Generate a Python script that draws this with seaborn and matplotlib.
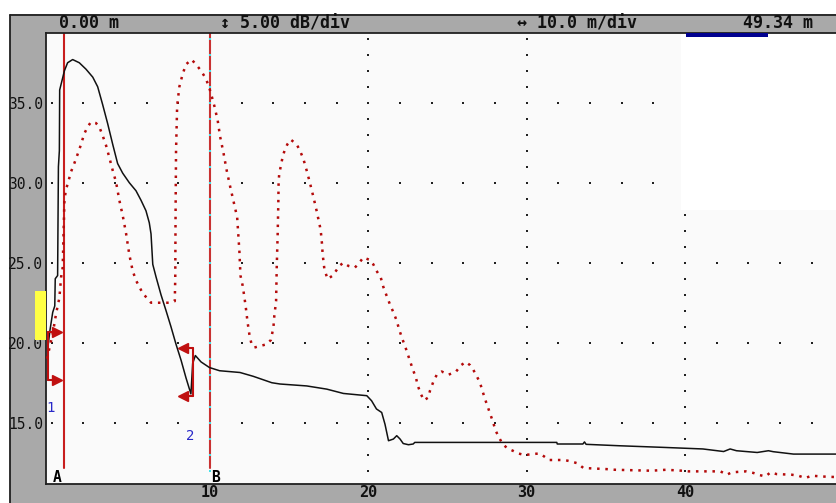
import numpy as np
import pandas as pd
import matplotlib
matplotlib.use("Agg")
import matplotlib.pyplot as plt
import seaborn as sns
from matplotlib.patches import Rectangle
from matplotlib.lines import Line2D

sns.set_theme(style="white")
plt.rcParams['font.family'] = ['DejaVu Sans Mono', 'DejaVu Sans']

# ---------------- data ----------------
trace_x = [-0.25, -0.1, 0.07, 0.2, 0.23, 0.38, 0.4, 0.43, 0.49, 0.51, 0.66, 0.81, 1.01, 1.33, 1.75,
           2.17, 2.6, 2.91, 3.22, 3.54, 3.86, 4.17, 4.49, 4.91, 5.33, 5.65, 5.96, 6.17, 6.28, 6.39,
           6.6, 6.91, 7.23, 7.54, 7.86, 8.18, 8.49, 8.8, 8.91, 9.08, 9.44, 9.97, 10.61, 11.9, 12.74,
           13.91, 14.43, 16.11, 17.38, 18.43, 19.91, 20.21, 20.52, 20.85, 21.06, 21.28, 21.59, 21.8,
           22.01, 22.21, 22.54, 22.84, 22.94, 31.91, 31.94, 33.56, 33.66, 33.76, 35.88, 38.61, 41.14,
           42.45, 42.86, 43.26, 44.57, 45.28, 45.58, 46.86, 49.73]
trace_db = [19.6, 20.8, 21.9, 22.3, 24.0, 24.2, 27.0, 31.0, 32.0, 35.8, 36.4, 37.0, 37.5, 37.7, 37.5,
            37.1, 36.6, 36.0, 34.9, 33.7, 32.4, 31.2, 30.6, 30.0, 29.5, 28.9, 28.25, 27.5, 26.8, 24.9,
            24.1, 23.0, 22.0, 21.0, 19.9, 18.9, 17.8, 16.8, 18.7, 19.2, 18.8, 18.45, 18.25, 18.14, 17.9,
            17.5, 17.42, 17.3, 17.1, 16.83, 16.69, 16.375, 15.86, 15.64, 14.9, 13.875, 13.98, 14.19,
            13.98, 13.7, 13.625, 13.67, 13.77, 13.77, 13.67, 13.67, 13.8, 13.65, 13.56, 13.46, 13.36,
            13.2, 13.36, 13.25, 13.14, 13.25, 13.19, 13.04, 13.04]

ref_x = [-0.29, 0.07, 0.28, 0.49, 0.6, 0.7, 0.76, 0.81, 0.91, 1.01,
         1.22, 1.43, 1.65, 1.86, 2.06, 2.28, 2.49, 2.8, 3.01, 3.22,
         3.44, 3.64, 3.86, 4.07, 4.28, 4.49, 4.7, 4.91, 5.12, 5.33,
         5.75, 6.28, 6.91, 7.48, 7.78, 7.81, 7.83, 7.86, 7.93, 8.07,
         8.28, 8.49, 8.84, 9.12, 9.44, 9.75, 9.97, 10.13, 10.28, 10.49,
         10.64, 10.85, 11.06, 11.27, 11.48, 11.72, 11.79, 11.86, 11.93, 12.07,
         12.18, 12.28, 12.38, 12.49, 12.63, 12.81, 13.17, 13.58, 13.85, 14.01,
         14.07, 14.18, 14.22, 14.28, 14.32, 14.34, 14.38, 14.49, 14.59, 14.71,
         14.89, 15.1, 15.48, 15.69, 15.9, 16.11, 16.32, 16.54, 16.75, 16.95,
         17.02, 17.08, 17.12, 17.18, 17.23, 17.43, 17.76, 17.97, 18.17, 18.43,
         18.75, 19.16, 19.44, 19.69, 20.11, 20.32, 20.52, 20.79, 20.95, 21.16,
         21.38, 21.59, 21.8, 21.96, 22.18, 22.39, 22.6, 22.81, 23.02, 23.11,
         23.32, 23.52, 23.8, 23.9, 24.12, 24.33, 24.64, 25.07, 25.55, 25.87,
         26.16, 26.43, 26.64, 26.86, 27.06, 27.23, 27.44, 27.65, 27.87, 28.05,
         28.26, 28.49, 28.79, 29.13, 29.48, 29.87, 30.39, 30.81, 31.1, 31.42,
         31.91, 32.39, 32.81, 33.23, 33.59, 35.07, 35.58, 37.9, 38.81, 39.82,
         40.23, 42.25, 42.65, 42.96, 43.86, 44.33, 44.64, 45.08, 45.42, 45.79,
         46.75, 47.17, 47.6, 48.01, 48.65, 49.63]
ref_db = [19.0, 20.56, 21.8, 22.8, 24.1, 24.7, 27.0, 28.9, 29.6, 29.9,
          30.67, 31.2, 31.8, 32.4, 33.06, 33.5, 33.8, 33.73, 33.5, 32.96,
          32.33, 31.6, 30.77, 30.04, 28.9, 27.96, 26.85, 25.5, 24.5, 23.9,
          23.1, 22.5, 22.5, 22.5, 22.6, 24.0, 28.0, 32.0, 34.8, 36.0,
          36.8, 37.4, 37.7, 37.4, 37.0, 36.5, 35.9, 35.35, 34.8, 33.9,
          32.9, 31.9, 30.77, 29.8, 28.9, 27.85, 26.8, 25.75, 24.2, 23.56,
          22.83, 22.1, 21.27, 20.54, 19.9, 19.7, 19.8, 19.9, 20.17, 20.96,
          21.7, 22.6, 24.7, 26.8, 28.7, 30.1, 30.56, 31.1, 31.6, 32.0,
          32.4, 32.7, 32.4, 32.0, 31.5, 30.77, 29.98, 29.1, 28.2, 27.27,
          26.8, 26.17, 25.54, 25.0, 24.6, 23.98, 24.2, 24.5, 24.8, 25.0,
          24.8, 24.7, 25.0, 25.33, 25.17, 24.9, 24.5, 24.08, 23.5, 22.94,
          22.375, 21.9, 21.375, 20.8, 20.17, 19.6, 18.98, 18.35, 17.8, 17.375,
          16.8, 16.4, 16.58, 17.0, 17.58, 18.0, 18.2, 18.0, 18.2, 18.6,
          18.8, 18.6, 18.3, 17.9, 17.5, 16.94, 16.3, 15.7, 15.08, 14.5,
          14.08, 13.67, 13.4, 13.25, 13.08, 12.98, 13.04, 13.08, 12.9, 12.67,
          12.67, 12.67, 12.58, 12.46, 12.17, 12.1, 12.06, 12.0, 12.06, 12.0,
          11.96, 11.96, 11.75, 11.9, 11.96, 11.86, 11.75, 11.64, 11.9, 11.79,
          11.75, 11.69, 11.54, 11.69, 11.64, 11.6]

yticks = [15, 20, 25, 30, 35]
ytick_labels = ['15.0', '20.0', '25.0', '30.0', '35.0']
xticks = [10, 20, 30, 40]
xtick_labels = ['10', '20', '30', '40']

cursor_x = [0.78, 10.0]
cursor_labels = ['A', 'B']
cursor_label_x = [0.38, 10.33]

marker_x = [-0.21, 8.91]
marker_top = [20.69, 19.67]
marker_bottom = [17.67, 16.67]
marker_head = [0.31, 8.33]
marker_labels = ['1', '2']
marker_label_x = [-0.05, 8.74]
marker_label_y = [15.9, 14.15]

header_texts = ['0.00 m', '\u2195 5.00 dB/div', '\u2194 10.0 m/div', '49.34 m']

# ---------------- figure layout ----------------
W, H = 837, 503
fig = plt.figure(figsize=(W / 100, H / 100), dpi=100, facecolor='white')

def fx(px):
    return px / W

def fy(py):
    return 1 - py / H

GRAY = '#a9a9a9'
fig.add_artist(Rectangle((fx(10), fy(33)), fx(827), 19 / H, transform=fig.transFigure,
                         facecolor=GRAY, edgecolor='none', zorder=0))
fig.add_artist(Rectangle((fx(10), 0), fx(36), fy(14), transform=fig.transFigure,
                         facecolor=GRAY, edgecolor='none', zorder=0))
fig.add_artist(Rectangle((fx(10), 0), fx(827), 19 / H, transform=fig.transFigure,
                         facecolor=GRAY, edgecolor='none', zorder=0))
fig.add_artist(Line2D([fx(10), 1], [fy(14.5), fy(14.5)], transform=fig.transFigure,
                      color='#202020', lw=1.3))
fig.add_artist(Line2D([fx(10.5), fx(10.5)], [0, fy(14.5)], transform=fig.transFigure,
                      color='#202020', lw=1.3))
# yellow indicator in left panel
fig.add_artist(Rectangle((fx(35), fy(340)), fx(11), 49 / H, transform=fig.transFigure,
                         facecolor='#ffff44', edgecolor='none', zorder=1))

ax = fig.add_axes([fx(46), fy(484), fx(791), (484 - 33) / H])
ax.set_facecolor('#fafafa')
ax.set_xlim(-0.354, 49.61)
ax.set_ylim(11.17, 39.36)

# navy indicator at the top right
fig.add_artist(Rectangle((fx(686), fy(36.5)), fx(82), 3.5 / H, transform=fig.transFigure,
                         facecolor='#000090', edgecolor='none', zorder=5))

# ---------------- dotted grid ----------------
row_x = np.arange(0, 50, 2)
col_db = np.arange(12, 40, 1)
gx, gy = np.meshgrid(row_x, yticks)
ax.scatter(gx.ravel(), gy.ravel(), s=2.2, marker='s', color='#202020', linewidths=0, zorder=1)
for xv in xticks[1:]:
    ax.scatter(np.full(col_db.shape, xv), col_db, s=2.2, marker='s', color='#202020',
               linewidths=0, zorder=1)
# white area in the upper right (no grid shown there)
ax.add_patch(Rectangle((39.75, 28.3), 12, 12, facecolor='white', edgecolor='none', zorder=1.5))

# ---------------- cursors ----------------
ax.plot([cursor_x[0]] * 2, [12.15, 39.36], color='#c81e1e', lw=1.5, zorder=2)
ax.plot([cursor_x[1]] * 2, [12.15, 39.36], color='#c83232', lw=1.5, zorder=2)
ax.scatter(np.full(col_db.shape, cursor_x[1]), col_db, s=3, marker='s', color='#44e0e8',
           linewidths=0, zorder=2.5)
for xl, lab in zip(cursor_label_x, cursor_labels):
    ax.text(xl, 11.6, lab, ha='center', va='center', fontsize=10.5, fontweight='bold',
            color='black', zorder=6)

# ---------------- traces ----------------
sns.lineplot(x=ref_x, y=ref_db, ax=ax, estimator=None, sort=False, color='#b40a0a',
             lw=1.8, linestyle=(0, (1, 2.3)), dash_capstyle='butt', zorder=3)
sns.lineplot(x=trace_x, y=trace_db, ax=ax, estimator=None, sort=False, color='#111111',
             lw=1.1, zorder=4)

# ---------------- loss markers ----------------
for i in range(2):
    mx = marker_x[i]
    ax.plot([mx, mx], [marker_bottom[i], marker_top[i]], color='#c01010', lw=1.5, zorder=5)
    for yv in (marker_top[i], marker_bottom[i]):
        ax.plot([mx, marker_head[i]], [yv, yv], color='#c01010', lw=1.5, zorder=5)
        ax.plot([marker_head[i]], [yv], marker='>' if i == 0 else '<', ms=7,
                color='#c01010', mec='#c01010', zorder=5)
    ax.text(marker_label_x[i], marker_label_y[i], marker_labels[i], ha='center', va='center',
            fontsize=10, color='#2828c8', zorder=6)

# ---------------- axes styling ----------------
ax.set_xticks(xticks, xtick_labels)
ax.set_yticks(yticks, ytick_labels)
ax.tick_params(axis='both', length=0)
ax.tick_params(axis='y', pad=2, labelsize=10.5, labelcolor='#111111')
ax.tick_params(axis='x', pad=1, labelsize=11, labelcolor='#111111')
for t in ax.get_xticklabels():
    t.set_fontweight('bold')
ax.grid(False)
for side in ('left', 'bottom', 'top'):
    ax.spines[side].set_color('#202020')
    ax.spines[side].set_linewidth(1.3)
ax.spines['right'].set_visible(False)
ax.set_xlabel('')
ax.set_ylabel('')

# ---------------- header texts ----------------
for cx, txt in zip([89.5, 285, 577.5, 778], header_texts):
    fig.text(fx(cx), fy(23.5), txt, ha='center', va='center', fontsize=12,
             fontweight='bold', color='#111111')

fig.savefig('out.png', dpi=100, facecolor='white')
